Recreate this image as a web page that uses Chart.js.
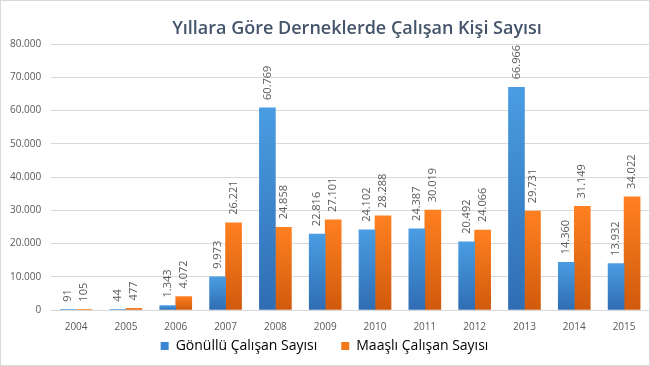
<!DOCTYPE html>
<html>
<head>
<meta charset="utf-8">
<script src="https://cdn.jsdelivr.net/npm/chart.js@4"></script>
<style>
  html, body { margin: 0; padding: 0; background: #fff; }
  #wrap { width: 650px; height: 366px; position: relative; }
</style>
</head>
<body>
<div id="wrap"><canvas id="derneklerChart" width="650" height="366"></canvas></div>
<script>
const years = ['2004', '2005', '2006', '2007', '2008', '2009', '2010', '2011', '2012', '2013', '2014', '2015'];
const gonullu = [91, 44, 1343, 9973, 60769, 22816, 24102, 24387, 20492, 66966, 14360, 13932];
const maasli = [105, 477, 4072, 26221, 24858, 27101, 28288, 30019, 24066, 29731, 31149, 34022];
const yTicks = [0, 10000, 20000, 30000, 40000, 50000, 60000, 70000, 80000];

const chartTitle = 'Yıllara Göre Derneklerde Çalışan Kişi Sayısı';
const textGray = '#595959';
const fontFamily = '"Open Sans", "Noto Sans", sans-serif';

function fmt(n) {
    return String(n).replace(/\B(?=(\d{3})+(?!\d))/g, '.');
}

// per-bar vertical gradient, light on top, darker at the base
function barGradient(top, bottom) {
    return function(context) {
        const chart = context.chart;
        const yScale = chart.scales.y;
        if (!yScale || context.raw === undefined) return top;
        const yTop = yScale.getPixelForValue(context.raw);
        const yBase = yScale.getPixelForValue(0);
        const g = chart.ctx.createLinearGradient(0, yTop, 0, Math.max(yBase, yTop + 1));
        g.addColorStop(0, top);
        g.addColorStop(1, bottom);
        return g;
    };
}

const extras = {
    id: 'extras',
    afterDatasetsDraw(chart) {
        const ctx = chart.ctx;
        ctx.save();
        ctx.fillStyle = textGray;
        ctx.font = '11px ' + fontFamily;
        ctx.textAlign = 'left';
        ctx.textBaseline = 'middle';
        chart.data.datasets.forEach((ds, i) => {
            const meta = chart.getDatasetMeta(i);
            meta.data.forEach((bar, j) => {
                ctx.save();
                ctx.translate(bar.x, bar.y - 8);
                ctx.rotate(-Math.PI / 2);
                ctx.fillText(fmt(ds.data[j]), 0, 0);
                ctx.restore();
            });
        });
        ctx.restore();
    },
    afterDraw(chart) {
        const ctx = chart.ctx;
        ctx.save();
        ctx.fillStyle = '#44546A';
        ctx.font = '600 18px ' + fontFamily;
        ctx.textAlign = 'center';
        ctx.textBaseline = 'middle';
        ctx.fillText(chartTitle, 357, 29);
        ctx.strokeStyle = '#D9D9D9';
        ctx.lineWidth = 1;
        ctx.strokeRect(0.5, 0.5, chart.width - 1, chart.height - 1);
        ctx.restore();
    }
};

const ctx = document.getElementById('derneklerChart').getContext('2d');
new Chart(ctx, {
    type: 'bar',
    data: {
        labels: years,
        datasets: [{
            label: 'Gönüllü Çalışan Sayısı',
            data: gonullu,
            backgroundColor: barGradient('#4A9DE3', '#2F6DB3'),
            legendColor: '#3A86D4',
            barThickness: 16,
            categoryPercentage: 0.76
        }, {
            label: 'Maaşlı Çalışan Sayısı',
            data: maasli,
            backgroundColor: barGradient('#FF8020', '#D05A0C'),
            legendColor: '#F07A1A',
            barThickness: 16,
            categoryPercentage: 0.76
        }]
    },
    options: {
        responsive: false,
        animation: false,
        layout: {
            padding: { top: 44, right: 1, bottom: 3, left: 0 }
        },
        scales: {
            x: {
                grid: { display: false },
                border: { color: '#D9D9D9' },
                ticks: {
                    color: textGray,
                    font: { size: 10, family: fontFamily },
                    padding: 3
                }
            },
            y: {
                min: 0,
                max: 80000,
                afterBuildTicks(axis) {
                    axis.ticks = yTicks.map(v => ({ value: v }));
                },
                grid: { color: '#D9D9D9', drawTicks: false },
                border: { display: false },
                ticks: {
                    color: textGray,
                    font: { size: 10, family: fontFamily },
                    padding: 10,
                    callback: v => fmt(v)
                }
            }
        },
        plugins: {
            title: { display: false },
            tooltip: { enabled: false },
            legend: {
                position: 'bottom',
                labels: {
                    color: textGray,
                    font: { size: 14, family: fontFamily },
                    boxWidth: 8,
                    boxHeight: 8,
                    padding: 3,
                    generateLabels(chart) {
                        return chart.data.datasets.map((ds, i) => ({
                            // trailing en spaces widen the gap between the two items
                            text: i === 0 ? ds.label + '\u2002\u2002\u2002' : ds.label,
                            fillStyle: ds.legendColor,
                            strokeStyle: ds.legendColor,
                            lineWidth: 0,
                            datasetIndex: i,
                            hidden: false
                        }));
                    }
                }
            }
        }
    },
    plugins: [extras]
});
</script>
</body>
</html>
